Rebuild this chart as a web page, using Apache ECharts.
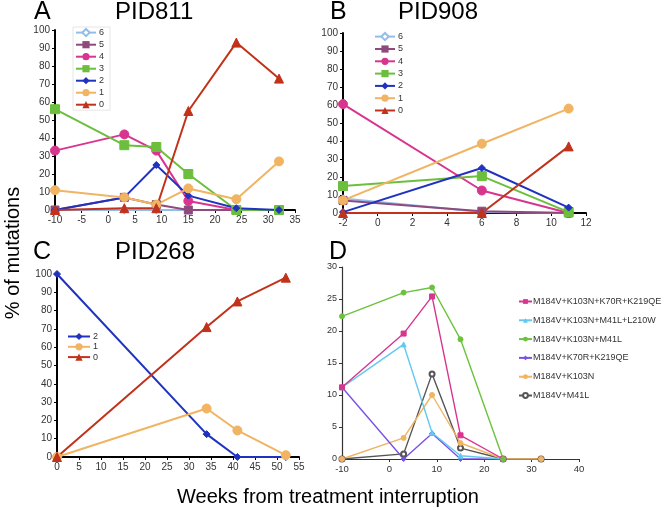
<!DOCTYPE html>
<html><head><meta charset="utf-8">
<script src="https://cdn.jsdelivr.net/npm/echarts@6/dist/echarts.min.js"></script>
<style>html,body{margin:0;padding:0;background:#fff}#c{width:664px;height:510px}</style>
</head><body><div id="c"></div>
<script>
// Panel A (PID811)
const xA = [-10, 3, 9, 15, 24, 32];
const A6 = [0, 0, 0, 0, 0, 0];
const A5 = [0, 7, 3, 0, 0, 0];
const A4 = [33, 42, 33, 5, 0, 0];
const A3 = [56, 36, 35, 20, 0, 0];
const A2 = [0, 7, 25, 8, 1, 0];
const A1 = [11, 7, 3, 12, 6, 27];
const A0 = [0, 1, 1, 55, 93, 73];
// Panel B (PID908)
const xB = [-2, 6, 11];
const B6 = [8, 0.5, 0];
const B5 = [7, 1, 0];
const B4 = [60.5, 12.5, 0];
const B3 = [15, 20.5, 0.5];
const B2 = [0.5, 25, 3];
const B1 = [7, 38.5, 58];
const B0 = [0, 0, 37];
// Panel C (PID268)
const xC = [0, 34, 41, 52];
const C2 = [100, 12.5, 0, 0];
const C1 = [0, 26.5, 14.5, 1];
const C0 = [0, 71, 85, 98];
// Panel D
const xD = [-10, 3, 9, 15, 24, 32];
const namesD = ['M184V+K103N+K70R+K219QE', 'M184V+K103N+M41L+L210W', 'M184V+K103N+M41L', 'M184V+K70R+K219QE', 'M184V+K103N', 'M184V+M41L'];
const D1 = [11.2, 19.6, 25.4, 3.7, 0, null];
const D2 = [11.2, 17.9, 4.1, 0.5, 0, null];
const D3 = [22.3, 26.0, 26.8, 18.7, 0, null];
const D4 = [11.2, 0, 4, 0, 0, null];
const D5 = [0, 3.3, 10, 2.5, 0, 0];
const D6 = [0, 0.8, 13.3, 1.7, 0, 0];

const FONT = '"Liberation Sans", Arial, Helvetica, sans-serif';
const sty = {
  '6': {c: '#93bde9', s: 'emptyDiamond', z: 6},
  '5': {c: '#8e4a7c', s: 'rect', z: 8},
  '4': {c: '#d8358f', s: 'circle', z: 9},
  '3': {c: '#6cbf3c', s: 'rect', z: 9},
  '2': {c: '#1f32c0', s: 'diamond', z: 7},
  '1': {c: '#f0b462', s: 'circle', z: 9},
  '0': {c: '#c2321b', s: 'triangle', z: 9}
};
function pairs(xs, ys) { return xs.map((x, i) => [x, ys[i]]); }
function mk(name, idx, xs, ys) {
  const st = sty[name];
  return {
    name: name, type: 'line', xAxisIndex: idx, yAxisIndex: idx,
    data: pairs(xs, ys), symbol: st.s, symbolSize: st.z,
    lineStyle: {color: st.c, width: 2}, itemStyle: {color: st.c, borderColor: st.c},
    emphasis: {disabled: true}, animation: false
  };
}
const dCol = ['#d8358f', '#62c9f1', '#6cc23c', '#7a52e6', '#f0b462', '#555555'];
const dSym = ['rect', 'triangle', 'circle', 'diamond', 'circle', 'emptyCircle'];
const dVals = [D1, D2, D3, D4, D5, D6];
function mkD(i) {
  return {
    name: namesD[i], type: 'line', xAxisIndex: 3, yAxisIndex: 3,
    data: pairs(xD, dVals[i]), symbol: dSym[i], symbolSize: 5,
    lineStyle: {color: dCol[i], width: 1.4}, itemStyle: {color: dCol[i], borderColor: dCol[i]},
    emphasis: {disabled: true}, animation: false
  };
}
function xax(idx, min, max, itv, heavy) {
  return {
    type: 'value', gridIndex: idx, min: min, max: max, interval: itv,
    splitLine: {show: false},
    axisLine: {onZero: false, lineStyle: {color: heavy ? '#000' : '#333', width: heavy ? 2 : 1.2}},
    axisTick: {length: 3, lineStyle: {color: heavy ? '#000' : '#333', width: 1}},
    axisLabel: {fontSize: heavy ? 10 : 9.5, color: '#333', fontFamily: FONT, margin: 5}
  };
}
function yax(idx, min, max, itv, heavy) {
  return {
    type: 'value', gridIndex: idx, min: min, max: max, interval: itv,
    splitLine: {show: false},
    axisLine: {show: true, onZero: false, lineStyle: {color: heavy ? '#000' : '#333', width: heavy ? 2 : 1.2}},
    axisTick: {show: true, length: 3, lineStyle: {color: heavy ? '#000' : '#333', width: 1}},
    axisLabel: {fontSize: heavy ? 10 : 9, color: '#333', fontFamily: FONT, margin: 5}
  };
}
function leg(names, left, top, gap, extra) {
  return Object.assign({
    orient: 'vertical', left: left, top: top, data: names,
    itemWidth: 20, itemHeight: 9, itemGap: gap, padding: 0,
    textStyle: {fontSize: 9, color: '#333', fontFamily: FONT, padding: [0, 0, 0, -2]},
    selectedMode: false
  }, extra || {});
}
const chart = echarts.init(document.getElementById('c'), null, {renderer: 'canvas'});
const labels = [
  {t: 'A', x: 34, y: 12, s: 25}, {t: 'PID811', x: 115, y: 12, s: 24},
  {t: 'B', x: 330, y: 12, s: 25}, {t: 'PID908', x: 398, y: 12, s: 24},
  {t: 'C', x: 33, y: 252, s: 25}, {t: 'PID268', x: 115, y: 252, s: 24},
  {t: 'D', x: 329, y: 252, s: 25}
];
chart.setOption({
  backgroundColor: '#fff',
  animation: false,
  grid: [
    {left: 55, top: 30, width: 240, height: 180},
    {left: 343, top: 33, width: 243, height: 180},
    {left: 57, top: 274, width: 242, height: 183},
    {left: 342, top: 267, width: 237, height: 192}
  ],
  xAxis: [xax(0, -10, 35, 5, true), xax(1, -2, 12, 2, true), xax(2, 0, 55, 5, true), xax(3, -10, 40, 10, false)],
  yAxis: [yax(0, 0, 100, 10, true), yax(1, 0, 100, 10, true), yax(2, 0, 100, 10, true), yax(3, 0, 30, 5, false)],
  legend: [
    leg(['6', '5', '4', '3', '2', '1', '0'], 73, 27, 3, {borderColor: '#e6e6e6', borderWidth: 1, padding: [1, 6, 1, 2]}),
    leg(['6', '5', '4', '3', '2', '1', '0'], 374, 32, 3.3),
    leg(['2', '1', '0'], 67, 332, 1.3, {itemWidth: 22}),
    {orient: 'vertical', left: 518, top: 297, data: namesD, itemWidth: 13, itemHeight: 6, itemGap: 9.8, padding: 0,
     textStyle: {fontSize: 9, color: '#333', fontFamily: FONT, padding: [0, 0, 0, -4]}, selectedMode: false}
  ],
  graphic: labels.map(l => ({type: 'text', x: l.x, y: l.y, style: {text: l.t, font: l.s + 'px ' + FONT, fill: '#000', textVerticalAlign: 'middle'}})).concat([
    {type: 'text', x: 13, y: 253, rotation: Math.PI / 2, style: {text: '% of mutations', font: '20px ' + FONT, fill: '#000', textAlign: 'center', textVerticalAlign: 'middle'}},
    {type: 'text', x: 328, y: 497, style: {text: 'Weeks from treatment interruption', font: '20px ' + FONT, fill: '#000', textAlign: 'center', textVerticalAlign: 'middle'}}
  ]),
  series: [
    mk('6', 0, xA, A6), mk('5', 0, xA, A5), mk('4', 0, xA, A4), mk('3', 0, xA, A3), mk('2', 0, xA, A2), mk('1', 0, xA, A1), mk('0', 0, xA, A0),
    mk('6', 1, xB, B6), mk('5', 1, xB, B5), mk('4', 1, xB, B4), mk('3', 1, xB, B3), mk('2', 1, xB, B2), mk('1', 1, xB, B1), mk('0', 1, xB, B0),
    mk('2', 2, xC, C2), mk('1', 2, xC, C1), mk('0', 2, xC, C0),
    mkD(5), mkD(4), mkD(3), mkD(1), mkD(0), mkD(2)
  ]
});
</script></body></html>
